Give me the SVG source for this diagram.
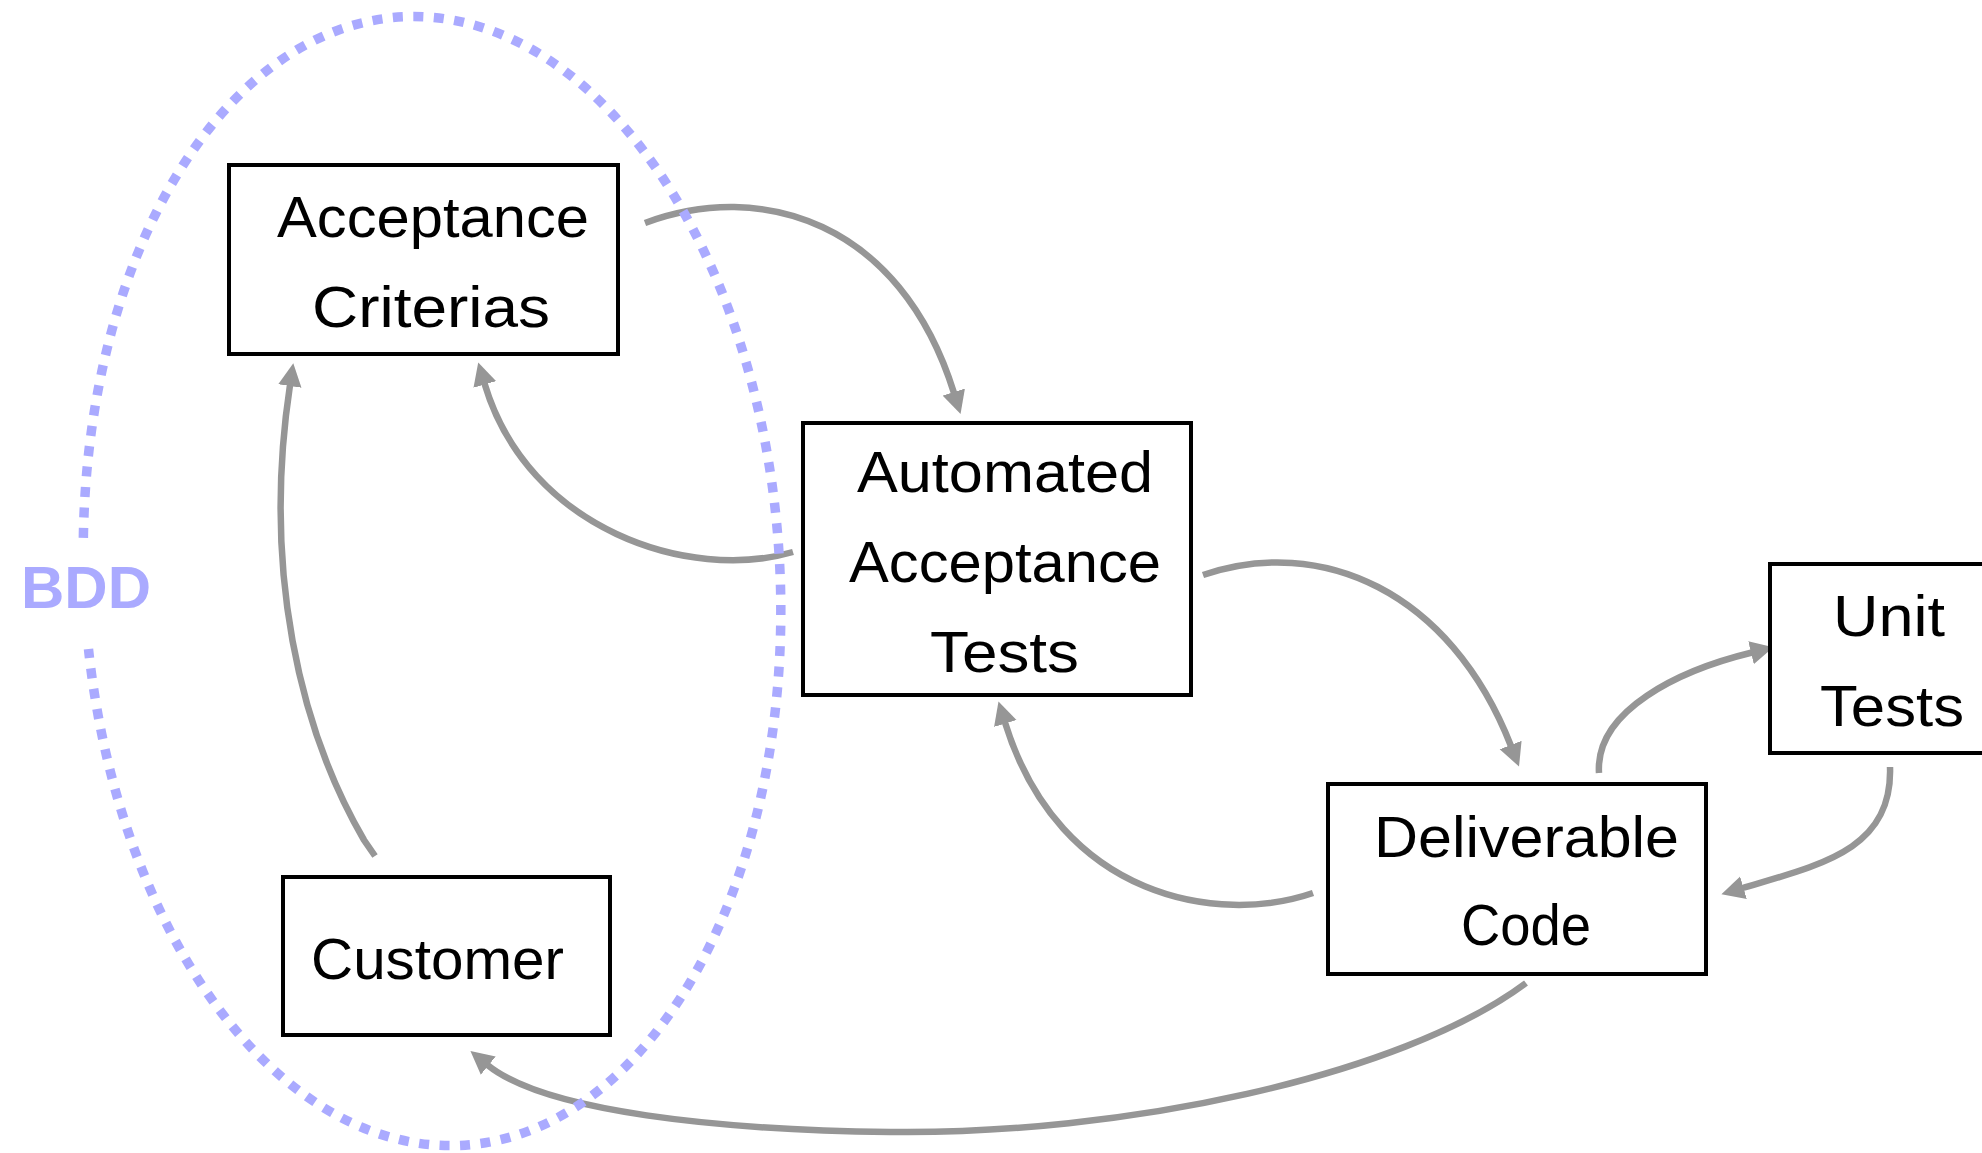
<svg xmlns="http://www.w3.org/2000/svg" width="1982" height="1153" viewBox="0 0 1982 1153">
  <style>
    .box { fill: #ffffff; stroke: #000000; stroke-width: 4; }
    .lbl { font-family: "Liberation Sans", "DejaVu Sans", sans-serif; font-size: 58px; fill: #000000; text-anchor: middle; }
    .conn { fill: none; stroke: #969696; stroke-width: 6.5; marker-end: url(#arrow); }
    .bdd { fill: none; stroke: #aaaaff; stroke-width: 9.5; stroke-dasharray: 10 10.5; }
    .bddtxt { font-family: "Liberation Sans", "DejaVu Sans", sans-serif; font-size: 60px; font-weight: bold; fill: #aaaaff; }
  </style>
  <defs>
    <marker id="arrow" markerUnits="userSpaceOnUse" viewBox="0 -12 24 24" refX="1" refY="0" markerWidth="24" markerHeight="24" orient="auto">
      <path d="M0,-11.75 L23,0 L0,11.75 z" fill="#969696"/>
    </marker>
  </defs>
  <rect x="0" y="0" width="1982" height="1153" fill="#ffffff"/>

  <g id="connectors">
    <path class="conn" d="M645,223 C760,180 900,220 954,393"/>
    <path class="conn" d="M793,552 C690,582 528,530 484.5,383.5"/>
    <path class="conn" d="M375,856 L364,840 C300,730 262,570 290,385"/>
    <path class="conn" d="M1203,575 C1320,535 1450,590 1511,746"/>
    <path class="conn" d="M1313,893 C1220,925 1060,900 1005,722.5"/>
    <path class="conn" d="M1599,773 C1595,710 1680,670 1752,652.5"/>
    <path class="conn" d="M1890,767 C1893,850 1820,865 1742.5,888"/>
    <path class="conn" d="M1526,983 C1400,1077 1120,1135 890,1132 C720,1130 545,1112 487.5,1065"/>
  </g>

  <g id="bdd">
    <path class="bdd" transform="translate(432,581) rotate(-3)" d="M-345.9,-61.3 A348,565 0 1 1 -346.6,50"/>
    <text class="bddtxt" x="21" y="608">BDD</text>
  </g>

  <g id="acceptance-criterias">
    <rect class="box" x="229" y="165" width="389" height="189"/>
    <text class="lbl" x="433" y="237" textLength="312" lengthAdjust="spacingAndGlyphs">Acceptance</text>
    <text class="lbl" x="431" y="327" textLength="238" lengthAdjust="spacingAndGlyphs">Criterias</text>
  </g>

  <g id="automated-acceptance-tests">
    <rect class="box" x="803" y="423" width="388" height="272"/>
    <text class="lbl" x="1005" y="492" textLength="296" lengthAdjust="spacingAndGlyphs">Automated</text>
    <text class="lbl" x="1005" y="582" textLength="312" lengthAdjust="spacingAndGlyphs">Acceptance</text>
    <text class="lbl" x="1004.5" y="672" textLength="149" lengthAdjust="spacingAndGlyphs">Tests</text>
  </g>

  <g id="unit-tests">
    <rect class="box" x="1770" y="564" width="240" height="189"/>
    <text class="lbl" x="1889" y="636" textLength="112" lengthAdjust="spacingAndGlyphs">Unit</text>
    <text class="lbl" x="1892" y="726" textLength="144" lengthAdjust="spacingAndGlyphs">Tests</text>
  </g>

  <g id="deliverable-code">
    <rect class="box" x="1328" y="784" width="378" height="190"/>
    <text class="lbl" x="1526.5" y="857" textLength="305" lengthAdjust="spacingAndGlyphs">Deliverable</text>
    <text class="lbl" x="1526" y="945" textLength="130" lengthAdjust="spacingAndGlyphs">Code</text>
  </g>

  <g id="customer">
    <rect class="box" x="283" y="877" width="327" height="158"/>
    <text class="lbl" x="437.5" y="979" textLength="253" lengthAdjust="spacingAndGlyphs">Customer</text>
  </g>
</svg>
